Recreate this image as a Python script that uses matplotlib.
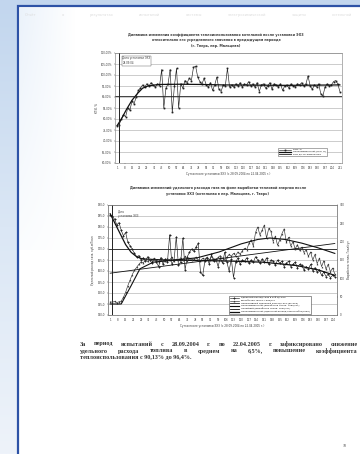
import matplotlib.pyplot as plt
import numpy as np
from matplotlib.patches import Rectangle
from matplotlib.colors import LinearSegmentedColormap

W, H = 360, 454

# ---- chart 1: heat-use coefficient per day after installation
days1 = list(range(1, 212, 2))
kti = [0.770, 0.775, 0.800, 0.820, 0.810, 0.850, 0.840, 0.880, 0.870, 0.900,
       0.930, 0.940, 0.955, 0.945, 0.960, 0.950, 0.965, 0.955, 0.945, 0.960,
       0.950, 1.025, 0.850, 0.940, 0.960, 1.025, 0.830, 0.950, 1.030, 0.850,
       0.960, 0.940, 0.975, 0.965, 0.985, 0.975, 1.035, 1.040, 0.990, 0.970,
       0.960, 0.985, 0.955, 0.945, 0.965, 0.930, 0.955, 0.990, 0.935, 0.925,
       0.955, 0.950, 1.030, 0.945, 0.955, 0.945, 0.960, 0.950, 0.965, 0.945,
       0.960, 0.955, 0.970, 0.950, 0.960, 0.945, 0.965, 0.925, 0.955, 0.960,
       0.940, 0.950, 0.965, 0.935, 0.960, 0.955, 0.945, 0.960, 0.930, 0.950,
       0.955, 0.940, 0.960, 0.950, 0.945, 0.960, 0.955, 0.965, 0.950, 0.960,
       0.995, 0.950, 0.935, 0.955, 0.945, 0.960, 0.915, 0.905, 0.945, 0.960,
       0.950, 0.955, 0.970, 0.975, 0.960, 0.925]
trend1_days = [1, 5, 10, 15, 20, 25, 30, 40, 60, 80, 100, 130, 160, 190, 211]
trend1 = [0.770, 0.800, 0.845, 0.885, 0.915, 0.940, 0.950, 0.957, 0.958,
          0.957, 0.955, 0.954, 0.953, 0.954, 0.955]
kti_before = 0.905
install_day = 3
y1_ticks = [0.60, 0.65, 0.70, 0.75, 0.80, 0.85, 0.90, 0.95, 1.00, 1.05, 1.10]

# ---- chart 2: specific gas use and heat output
days2 = list(range(1, 206, 2))
gas = [185.5, 185.0, 183.5, 181.0, 182.0, 178.5, 176.0, 177.5, 173.0, 171.5,
       170.0, 168.0, 166.5, 167.0, 165.0, 166.0, 164.5, 166.5, 165.0, 163.5,
       165.5, 164.0, 162.0, 166.0, 163.0, 165.5, 164.0, 176.5, 163.0, 165.0,
       175.5, 162.5, 164.0, 175.0, 160.5, 166.5, 168.5, 170.0, 169.0, 171.0,
       172.5, 159.5, 158.0, 164.5, 166.0, 163.0, 167.5, 164.5, 165.5, 162.0,
       166.0, 163.5, 168.5, 164.0, 160.0, 165.5, 157.0, 164.0, 166.0, 163.0,
       165.0, 164.5, 166.0, 163.5, 165.0, 164.0, 166.5, 165.0, 163.5, 165.5,
       164.0, 166.0, 163.0, 165.0, 164.5, 162.5, 165.0, 163.5, 164.5, 162.0,
       163.5, 164.5, 162.0, 163.0, 164.0, 161.5, 163.0, 162.5, 160.5, 162.0,
       161.0, 163.0, 160.0, 161.5, 159.5, 160.5, 158.0, 159.5, 157.5, 158.5,
       157.0, 158.0, 157.5]
heat = [36, 35, 37, 34, 36, 38, 48, 62, 80, 95, 110, 122, 130, 138, 145, 142,
        150, 146, 152, 148, 155, 150, 145, 156, 150, 148, 154, 150, 158, 146,
        152, 149, 156, 151, 160, 148, 155, 150, 153, 158, 150, 147, 155, 152,
        158, 150, 160, 154, 150, 157, 162, 155, 150, 158, 165, 160, 168, 162,
        172, 166, 175, 182, 178, 195, 205, 188, 225, 240, 218, 232, 245, 210,
        236, 228, 200, 215, 190, 205, 222, 235, 198, 212, 188, 200, 180, 192,
        176, 185, 170, 178, 160, 172, 150, 165, 140, 155, 132, 148, 125, 138,
        118, 128, 112]
gas_trend_days = [1, 5, 10, 15, 20, 25, 30, 50, 80, 110, 140, 170, 190, 205]
gas_trend = [186.0, 182.0, 177.0, 172.0, 168.5, 166.5, 165.5, 165.0, 164.8,
             164.5, 164.0, 162.5, 160.5, 158.0]
heat_trend_days = [1, 11, 20, 28, 40, 60, 80, 100, 120, 135, 146, 160, 175,
                   190, 205]
heat_trend = [30, 30, 80, 126, 144, 150, 156, 172, 194, 206, 210, 206, 196,
              183, 168]
heat_lin_days = [1, 205]
heat_lin = [114, 195]
gas_norm = 170.0
y2_ticks = [140, 145, 150, 155, 160, 165, 170, 175, 180, 185, 190]
y2r_ticks = [0, 50, 100, 150, 200, 250, 300]

INK = '#3a3a3a'
plt.rcParams['font.family'] = ['DejaVu Sans']

fig = plt.figure(figsize=(W / 100, H / 100), dpi=100)

# slide background + page
bg = fig.add_axes([0, 0, 1, 1])
bg.set_xlim(0, W)
bg.set_ylim(H, 0)
bg.axis('off')
slide = LinearSegmentedColormap.from_list('slide', ['#c2d6ee', '#dbe7f5', '#eef3fa'])
grad = np.linspace(0, 1, 256)[:, None] * np.ones((1, 16))
bg.imshow(grad, extent=(0, W, H, 0), cmap=slide, aspect='auto', zorder=0)
bg.add_patch(Rectangle((18, 6), 400, 500, facecolor='white',
                       edgecolor='#2d52a6', lw=1.6, zorder=1))
# faint blue haze on the left of the page
haze = np.zeros((64, 64, 4))
haze[..., 0], haze[..., 1], haze[..., 2] = 0.86, 0.91, 0.97
haze[..., 3] = (np.linspace(0.55, 0, 64)[None, :]
                * np.linspace(1, 0.2, 64)[:, None])
bg.imshow(haze, extent=(19.5, 75, 250, 8), aspect='auto', zorder=2)


def px(x, y):
    return x / W, 1 - y / H


def justify(words, x0, x1, y, **kw):
    r = fig.canvas.get_renderer()
    texts = [fig.text(0, 1 - y / H, w, va='center', ha='left', **kw) for w in words]
    widths = [t.get_window_extent(r).width for t in texts]
    gap = (x1 - x0 - sum(widths)) / max(len(words) - 1, 1)
    x = x0
    for t, w in zip(texts, widths):
        t.set_x(x / W)
        x += w + gap


justify('Отчёт о результатах испытаний системы электрохимической защиты котельной'.split(),
        25, 352, 15, fontsize=2.6, color='#dcdcdc')

# ---- chart 1
ax1 = fig.add_axes([115 / W, 1 - 163 / H, 227 / W, 110 / H])
ax1.plot(days1, kti, color='#222', lw=0.45, marker='s', ms=0.9, mew=0.3,
         label='КТИ, %')
ax1.plot(trend1_days, trend1, color='#111', lw=0.9,
         label='Полиномиальный (КТИ, %)')
ax1.axhline(kti_before, color='#222', lw=0.6,
            label='КТИ до установки ЭХЗ')
ax1.axvline(install_day, color='#222', lw=0.7)
ax1.text(install_day + 3, 1.085, 'Дата установки ЭХЗ\n28.09.04', fontsize=1.9,
         color=INK, va='top', ha='left', linespacing=1.2,
         bbox=dict(boxstyle='square,pad=0.3', fc='white', ec='#555', lw=0.3))
ax1.set_xlim(-1, 213)
ax1.set_ylim(0.60, 1.10)
ax1.set_xticks(range(1, 212, 7))
ax1.set_yticks(y1_ticks)
ax1.set_yticklabels([f'{v * 100:.2f}%'.replace('.', ',') for v in y1_ticks])
ax1.grid(axis='y', color='#b0b0b0', lw=0.45)
ax1.tick_params(labelsize=1.9, length=1, width=0.3, pad=1, colors=INK)
for s in ax1.spines.values():
    s.set_color('#777')
    s.set_linewidth(0.4)
ax1.set_xlabel('Сутки после установки ЭХЗ (с 28.09.2004 по 22.04.2005 г.)',
               fontsize=2.0, color=INK, labelpad=1.5)
ax1.set_ylabel('КТИ, %', fontsize=2.0, color=INK, labelpad=1.5)
leg1 = ax1.legend(loc='lower right', bbox_to_anchor=(0.94, 0.05), fontsize=1.7,
                  frameon=True, fancybox=False, edgecolor='#444',
                  handlelength=5, borderpad=0.4, labelspacing=0.2)
leg1.get_frame().set_linewidth(0.4)

for i, line in enumerate(['Динамика изменения коэффициента теплоиспользования котельной после установки ЭХЗ',
                          'относительно его усредненного значения в предыдущем периоде',
                          '(г. Тверь, пер. Мальцева)']):
    fig.text(*px(216, 35 + 5.5 * i), line, fontsize=2.4, fontweight='bold',
             color=INK, ha='center', va='center')

# ---- chart 2
ax2 = fig.add_axes([108 / W, 1 - 315 / H, 229 / W, 110 / H])
ax2r = ax2.twinx()
h1, = ax2.plot(days2, gas, color='#222', lw=0.45, marker='D', ms=0.9, mew=0.3)
h2, = ax2r.plot(days2, heat, color='#333', lw=0.45, marker='^', ms=0.9, mew=0.3)
h3 = ax2.axhline(gas_norm, color='#222', lw=0.6)
h4, = ax2r.plot(heat_trend_days, heat_trend, color='#111', lw=0.8)
h5, = ax2r.plot(heat_lin_days, heat_lin, color='#111', lw=0.6)
h6, = ax2.plot(gas_trend_days, gas_trend, color='#111', lw=0.9)
ax2.axvline(install_day, color='#222', lw=0.7)
ax2.text(install_day + 5, 188.2, 'Дата\nустановки ЭХЗ', fontsize=1.9,
         color=INK, va='top', ha='left', linespacing=1.2)
ax2.set_xlim(-1, 207)
ax2.set_ylim(140, 190)
ax2r.set_ylim(0, 300)
ax2.set_xticks(range(1, 206, 7))
ax2.set_yticks(y2_ticks)
ax2.set_yticklabels([f'{v:.1f}'.replace('.', ',') for v in y2_ticks])
ax2r.set_yticks(y2r_ticks)
ax2.grid(axis='y', color='#b0b0b0', lw=0.45)
for a in (ax2, ax2r):
    a.tick_params(labelsize=1.9, length=1, width=0.3, pad=1, colors=INK)
    for s in a.spines.values():
        s.set_color('#777')
        s.set_linewidth(0.4)
ax2.set_xlabel('Сутки после установки ЭХЗ (с 28.09.2004 по 22.04.2005 г.)',
               fontsize=2.0, color=INK, labelpad=1.5)
ax2.set_ylabel('Удельный расход газа, куб.м/Гкал', fontsize=2.0, color=INK,
               labelpad=2)
ax2r.set_ylabel('Выработка тепла, Гкал/сут', fontsize=2.0, color=INK,
                labelpad=2)
leg2 = ax2r.legend([h1, h2, h3, h4, h5, h6],
                   ['Удельный расход газа в куб.м/Гкал',
                    'Выработка тепла, Гкал/сут',
                    'Нормативный удельный расход газа (до ЭХЗ)',
                    'Полиномиальный (Выработка тепла, Гкал/сут)',
                    'Линейный (Выработка тепла, Гкал/сут)',
                    'Полиномиальный (Удельный расход газа в куб.м/Гкал)'],
                   loc='lower right', bbox_to_anchor=(0.89, 0.0), fontsize=1.7,
                   frameon=True, fancybox=False, edgecolor='#444',
                   handlelength=4, borderpad=0.4, labelspacing=0.25,
                   framealpha=1)
leg2.get_frame().set_linewidth(0.4)

for i, line in enumerate(['Динамика изменений удельного расхода газа на фоне выработки тепловой энергии после',
                          'установки ЭХЗ (котельная в пер. Мальцева, г. Тверь)']):
    fig.text(*px(218, 188 + 6 * i), line, fontsize=2.4, fontweight='bold',
             color=INK, ha='center', va='center')

# ---- paragraph
para = dict(fontsize=4.4, fontweight='bold', color='#333',
            family='Liberation Serif')
justify('За период испытаний с 28.09.2004 г. по 22.04.2005 г. зафиксировано снижение'.split(),
        80, 358, 344, **para)
justify('удельного расхода топлива в среднем на 6,5%, повышение коэффициента'.split(),
        80, 358, 351, **para)
fig.text(*px(80, 358), 'теплоиспользования с 90,13% до 96,4%.', ha='left',
         va='center', **para)

fig.text(*px(345, 446), '10', fontsize=3, color='#444', ha='center',
         va='center', family='Liberation Serif')

fig.savefig('out.png', dpi=100)
